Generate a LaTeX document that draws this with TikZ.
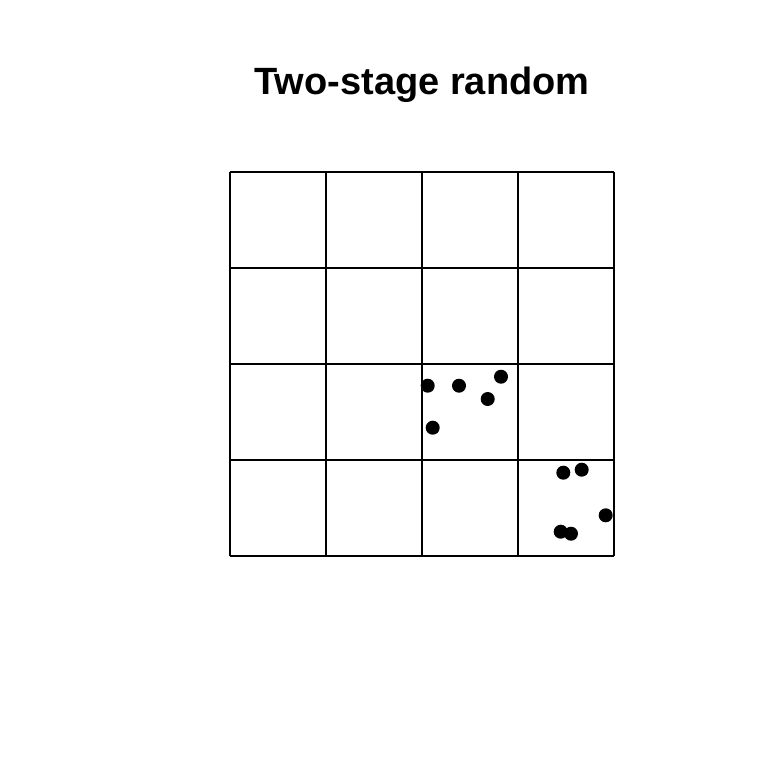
\documentclass[tikz,border=0pt]{standalone}
\usepackage{fontspec}
\setmainfont{Liberation Sans}
\begin{document}
\begin{tikzpicture}[x=1pt,y=-1pt,
  gridline/.style={line width=1.5pt},
  pt/.style={fill=black,circle,inner sep=0pt,minimum size=14pt}]
\useasboundingbox (0,0) rectangle (768,768);
\node[anchor=base,font=\bfseries\fontsize{38}{40}\selectfont] (title) at (422,94) {Two-stage random};
\foreach \i in {0,...,4}{
  \draw[gridline] (230+96*\i,172) -- (230+96*\i,556);
  \draw[gridline] (230,172+96*\i) -- (614,172+96*\i);
}
\foreach \x/\y [count=\k] in {427.7/385.7, 459/385.7, 501/376.7, 487.7/399, 432.7/427.7, 563.3/472.7, 581.7/469.7, 605.7/515.3, 560.7/531.7, 571/533.7}{
  \node[pt] (p\k) at (\x,\y) {};
}
\end{tikzpicture}
\end{document}
